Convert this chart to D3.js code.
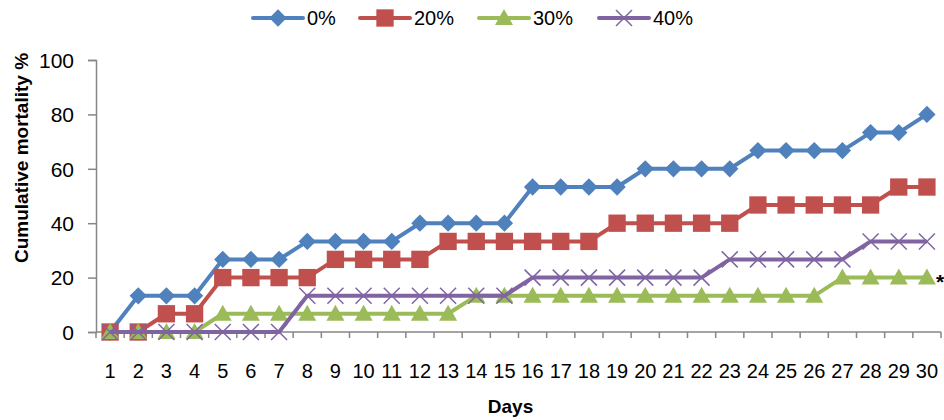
<!DOCTYPE html>
<html>
<head>
<meta charset="utf-8">
<script src="https://cdn.jsdelivr.net/npm/d3@7"></script>
<style>
  body { margin: 0; background: #fff; }
  text { font-family: "Liberation Sans", Arial, sans-serif; fill: #000; }
</style>
</head>
<body>
<div id="chart"></div>
<script>
// data
const days = d3.range(1, 31);
const seriesNames = ['0%', '20%', '30%', '40%'];
const mortality0 = [0, 13.3, 13.3, 13.3, 26.7, 26.7, 26.7, 33.3, 33.3, 33.3, 33.3, 40, 40, 40, 40,
    53.3, 53.3, 53.3, 53.3, 60, 60, 60, 60, 66.7, 66.7, 66.7, 66.7, 73.3, 73.3, 80];
const mortality20 = [0, 0, 6.7, 6.7, 20, 20, 20, 20, 26.7, 26.7, 26.7, 26.7, 33.3, 33.3, 33.3,
    33.3, 33.3, 33.3, 40, 40, 40, 40, 40, 46.7, 46.7, 46.7, 46.7, 46.7, 53.3, 53.3];
const mortality30 = [0, 0, 0, 0, 6.7, 6.7, 6.7, 6.7, 6.7, 6.7, 6.7, 6.7, 6.7, 13.3, 13.3,
    13.3, 13.3, 13.3, 13.3, 13.3, 13.3, 13.3, 13.3, 13.3, 13.3, 13.3, 20, 20, 20, 20];
const mortality40 = [0, 0, 0, 0, 0, 0, 0, 13.3, 13.3, 13.3, 13.3, 13.3, 13.3, 13.3, 13.3,
    20, 20, 20, 20, 20, 20, 20, 26.7, 26.7, 26.7, 26.7, 26.7, 33.3, 33.3, 33.3];
const yTicks = [0, 20, 40, 60, 80, 100];

const config = {
    width: 944, height: 420,
    margin: { top: 60, right: 3, bottom: 88, left: 96 },
    colors: ['#4F81BD', '#C0504D', '#9BBB59', '#8064A2'],
    markers: ['diamond', 'square', 'triangle', 'x']
};

const svg = d3.select('#chart').append('svg')
    .attr('width', config.width)
    .attr('height', config.height);

const innerW = config.width - config.margin.left - config.margin.right;
const innerH = config.height - config.margin.top - config.margin.bottom;

const g = svg.append('g')
    .attr('transform', `translate(${config.margin.left},${config.margin.top})`);

// category axis: one band per day, ticks on band edges
const xBand = d3.scaleBand().domain(days).range([0, innerW]);
const x = d => xBand(d) + xBand.bandwidth() / 2;
const y = d3.scaleLinear().domain([0, 100]).range([innerH, 0]);

const axisColor = '#868686';

// y axis
const yAxis = g.append('g')
    .call(d3.axisLeft(y).tickValues(yTicks).tickSize(8).tickPadding(14));
yAxis.select('.domain').attr('stroke', axisColor).attr('stroke-width', 1.5);
yAxis.selectAll('.tick line').attr('stroke', axisColor).attr('stroke-width', 1.5);
yAxis.selectAll('.tick text').attr('font-size', 21).attr('dy', '0.35em');

// x axis
const xAxisG = g.append('g').attr('transform', `translate(0,${innerH})`);
xAxisG.append('line')
    .attr('x1', 0).attr('x2', innerW)
    .attr('stroke', axisColor).attr('stroke-width', 1.5);
xAxisG.selectAll('.xtick')
    .data(days.concat([31]))
    .join('line')
    .attr('class', 'xtick')
    .attr('x1', d => d === 31 ? innerW : xBand(d))
    .attr('x2', d => d === 31 ? innerW : xBand(d))
    .attr('y1', 0).attr('y2', 6)
    .attr('stroke', axisColor).attr('stroke-width', 1.5);
xAxisG.selectAll('.xlabel')
    .data(days)
    .join('text')
    .attr('class', 'xlabel')
    .attr('x', d => x(d))
    .attr('y', 46)
    .attr('text-anchor', 'middle')
    .attr('font-size', 20)
    .text(d => d);

// axis titles
svg.append('text')
    .attr('x', config.margin.left + innerW / 2 - 8)
    .attr('y', 413)
    .attr('text-anchor', 'middle')
    .attr('font-size', 19)
    .attr('font-weight', 'bold')
    .text('Days');

svg.append('text')
    .attr('transform', `translate(28,${config.margin.top + 98}) rotate(-90)`)
    .attr('text-anchor', 'middle')
    .attr('font-size', 19)
    .attr('font-weight', 'bold')
    .text('Cumulative mortality %');

// marker shapes
const markerPath = type => {
    if (type === 'diamond') return d3.symbol(d3.symbolSquare, 150)();
    if (type === 'square') return d3.symbol(d3.symbolSquare, 300)();
    if (type === 'triangle') return 'M0,-9L9,7L-9,7Z';
    return 'M-8,-8L8,8M-8,8L8,-8';
};

const drawMarker = (sel, i) => {
    const type = config.markers[i];
    const p = sel.append('path').attr('d', markerPath(type));
    if (type === 'x') {
        p.attr('fill', 'none').attr('stroke', config.colors[i]).attr('stroke-width', 1.5);
    } else {
        p.attr('fill', config.colors[i]);
    }
    if (type === 'diamond') p.attr('transform', 'rotate(45)');
    return p;
};

const allSeries = [mortality0, mortality20, mortality30, mortality40];
const line = d3.line().x((d, i) => x(days[i])).y(d => y(d));

allSeries.forEach((values, i) => {
    const sg = g.append('g');
    sg.append('path')
        .datum(values)
        .attr('d', line)
        .attr('fill', 'none')
        .attr('stroke', config.colors[i])
        .attr('stroke-width', 4)
        .attr('stroke-linejoin', 'round');
    sg.selectAll('.pt')
        .data(values)
        .join('g')
        .attr('class', 'pt')
        .attr('transform', (d, j) => `translate(${x(days[j])},${y(d)})`)
        .each(function () { drawMarker(d3.select(this), i); });
});

// significance mark after the 30% series
g.append('text')
    .attr('x', x(30) + 9)
    .attr('y', y(mortality30[29]) + 11)
    .attr('font-size', 21)
    .attr('font-weight', 'bold')
    .text('*');

// legend
const legendX = [253, 360, 479, 599];
const legend = svg.append('g').attr('transform', 'translate(0,18)');
seriesNames.forEach((name, i) => {
    const lg = legend.append('g').attr('transform', `translate(${legendX[i]},0)`);
    lg.append('line')
        .attr('x1', 0).attr('x2', 50)
        .attr('stroke', config.colors[i])
        .attr('stroke-width', 4)
        .attr('stroke-linecap', 'round');
    drawMarker(lg.append('g').attr('transform', 'translate(25,0)'), i);
    lg.append('text')
        .attr('x', 54)
        .attr('y', 7)
        .attr('font-size', 20)
        .text(name);
});
</script>
</body>
</html>
